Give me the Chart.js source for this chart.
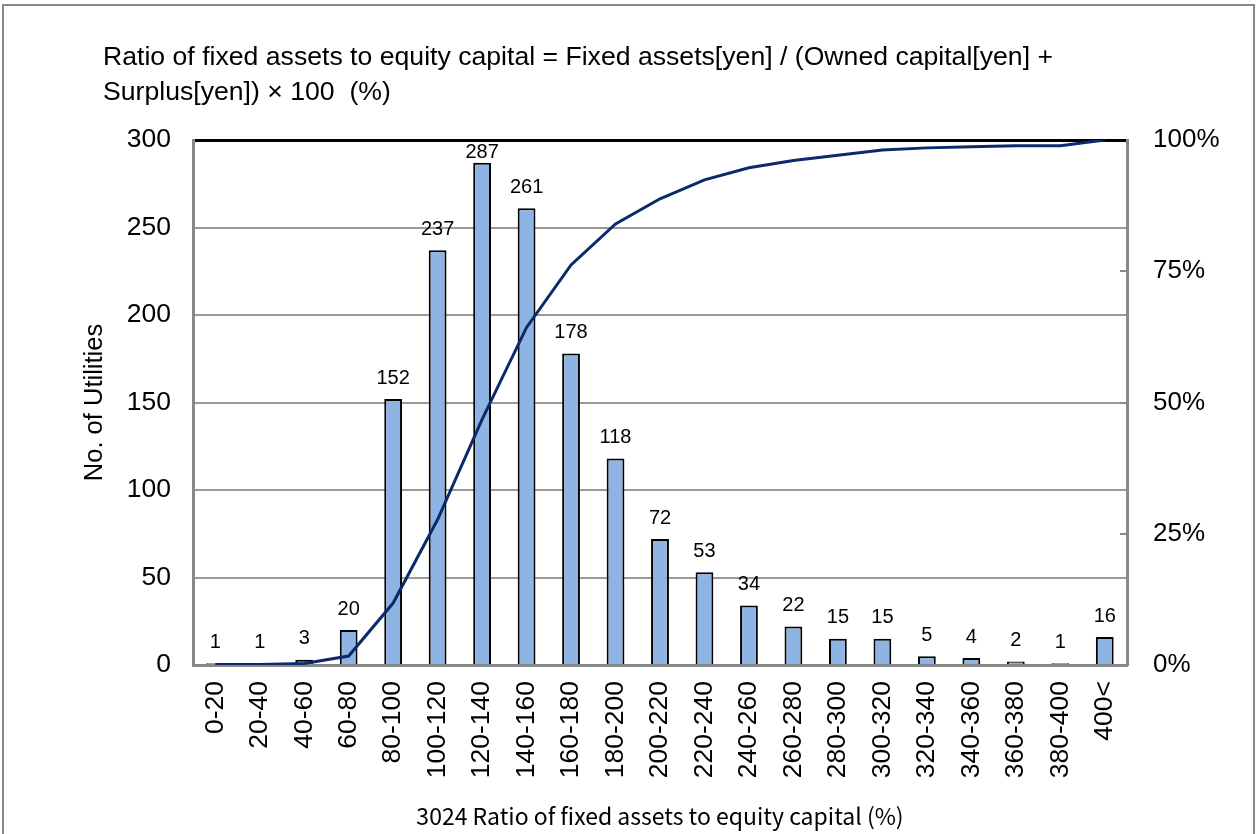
<!DOCTYPE html>
<html>
<head>
<meta charset="utf-8">
<script src="https://cdn.jsdelivr.net/npm/chart.js@4.4.1/dist/chart.umd.min.js"></script>
<style>
  html, body { margin: 0; padding: 0; background: #fff; }
  canvas { display: block; }
</style>
</head>
<body>
<canvas id="c" width="1257" height="834"></canvas>
<script>
const titleLines = [
  "Ratio of fixed assets to equity capital = Fixed assets[yen] / (Owned capital[yen] +",
  "Surplus[yen]) \u00d7 100  (%)"
];
const categories = ["0-20","20-40","40-60","60-80","80-100","100-120","120-140","140-160","160-180","180-200","200-220","220-240","240-260","260-280","280-300","300-320","320-340","340-360","360-380","380-400","400<"];
const counts = [1,1,3,20,152,237,287,261,178,118,72,53,34,22,15,15,5,4,2,1,16];
const cumulativePct = [0.1,0.1,0.3,1.7,11.8,27.7,46.8,64.3,76.2,84.0,88.8,92.4,94.7,96.1,97.1,98.1,98.5,98.7,98.9,98.9,100];
const leftTicks = [0,50,100,150,200,250,300];
const rightTicks = [0,25,50,75,100];
const yTitle = "No. of Utilities";
const xTitle = "3024 Ratio of fixed assets to equity capital (%)";

const SANS = "'Liberation Sans', Arial, sans-serif";

const decor = {
  id: 'decor',
  afterDraw(chart) {
    const ctx = chart.ctx;
    const ca = chart.chartArea;
    ctx.save();
    // outer frame
    ctx.strokeStyle = '#888';
    ctx.lineWidth = 2;
    ctx.strokeRect(3, 5, 1251, 840);
    // title
    ctx.fillStyle = '#000';
    ctx.font = "25px " + SANS;
    ctx.textAlign = 'left';
    ctx.textBaseline = 'middle';
    const w0 = ctx.measureText(titleLines[0]).width;
    const sx = 950 / w0;
    ctx.save();
    ctx.translate(103, 0);
    ctx.scale(sx, 1);
    ctx.fillText(titleLines[0], 0, 58);
    ctx.fillText(titleLines[1], 0, 93);
    ctx.restore();
    // right inward ticks
    const y2 = chart.scales.y2;
    ctx.strokeStyle = '#888';
    ctx.lineWidth = 2;
    rightTicks.forEach(v => {
      if (v === 0 || v === 100) return;
      const py = Math.round(y2.getPixelForValue(v));
      ctx.beginPath();
      ctx.moveTo(ca.right - 7, py);
      ctx.lineTo(ca.right, py);
      ctx.stroke();
    });
    // data labels
    const meta = chart.getDatasetMeta(1);
    ctx.fillStyle = '#000';
    ctx.font = "20px " + SANS;
    ctx.textAlign = 'center';
    ctx.textBaseline = 'middle';
    meta.data.forEach((bar, i) => {
      let y = bar.y - 21;
      if (y < ca.top + 12) y = ca.top + 12;
      ctx.fillText(String(counts[i]), bar.x, y);
    });
    ctx.restore();
  }
};

new Chart(document.getElementById('c'), {
  data: {
    labels: categories,
    datasets: [
      {
        type: 'line',
        data: cumulativePct,
        yAxisID: 'y2',
        borderColor: '#0c2a6b',
        borderWidth: 3,
        pointRadius: 0,
        tension: 0,
        fill: false,
        order: 0
      },
      {
        type: 'bar',
        data: counts,
        yAxisID: 'y',
        backgroundColor: '#8db4e2',
        borderColor: '#000',
        borderWidth: 2,
        barPercentage: 0.4,
        categoryPercentage: 1,
        order: 1
      }
    ]
  },
  options: {
    responsive: false,
    animation: false,
    layout: { padding: { top: 140, left: 0, right: 0, bottom: 0 } },
    plugins: { legend: { display: false }, tooltip: { enabled: false }, title: { display: false } },
    scales: {
      x: {
        grid: { display: false, drawTicks: false },
        border: { display: true, color: '#888', width: 3 },
        ticks: { color: '#000', font: { family: SANS, size: 26.5 }, maxRotation: 90, minRotation: 90, padding: 16, autoSkip: false },
        title: { display: true, text: xTitle, color: '#000', font: { family: "'Noto Sans CJK JP', 'Noto Sans', sans-serif", size: 23 }, padding: { top: 0, bottom: 4 } },
        afterFit(s) { s.height = 169; }
      },
      y: {
        position: 'left',
        min: 0, max: 300,
        afterBuildTicks(s) { s.ticks = leftTicks.map(v => ({ value: v })); },
        grid: {
          drawTicks: false,
          color: ctx => ctx.tick && ctx.tick.value === 300 ? '#000' : '#999',
          lineWidth: ctx => ctx.tick && ctx.tick.value === 300 ? 3 : 2
        },
        border: { display: true, color: '#888', width: 3 },
        ticks: { color: '#000', font: { family: SANS, size: 26.5 }, padding: 22 },
        title: { display: true, text: yTitle, color: '#000', font: { family: SANS, size: 25.5 }, padding: { top: 80, bottom: 0 } },
        afterFit(s) { s.width = 193; }
      },
      y2: {
        position: 'right',
        min: 0, max: 100,
        afterBuildTicks(s) { s.ticks = rightTicks.map(v => ({ value: v })); },
        grid: { drawOnChartArea: false, drawTicks: false },
        border: { display: true, color: '#888', width: 3 },
        ticks: { color: '#000', font: { family: SANS, size: 26 }, padding: 26, callback: v => v + '%' },
        afterFit(s) { s.width = 130; }
      }
    }
  },
  plugins: [decor]
});
</script>
</body>
</html>
